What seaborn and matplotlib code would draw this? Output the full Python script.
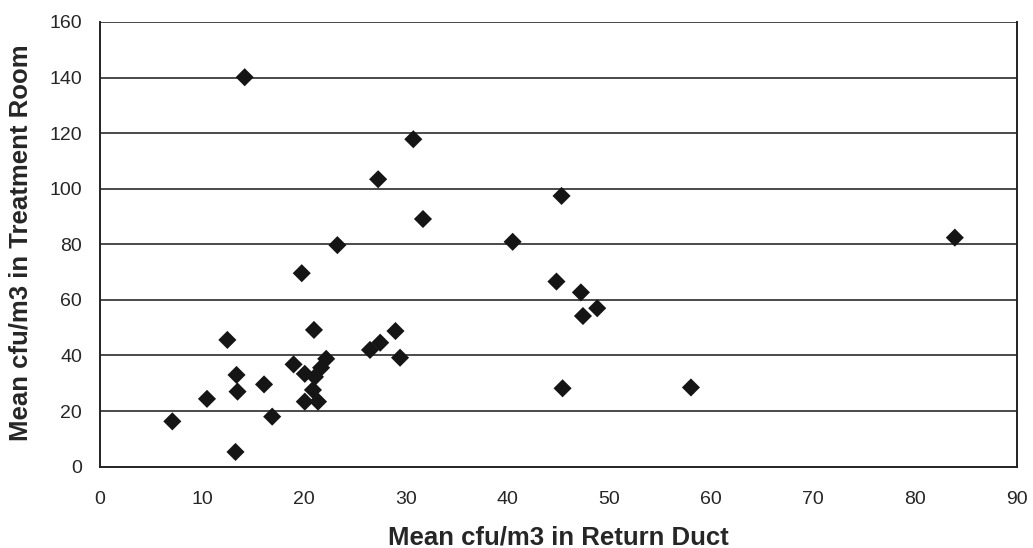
import matplotlib
matplotlib.use("Agg")
import matplotlib.pyplot as plt
import seaborn as sns
import pandas as pd

# Data
return_duct = [14.2, 30.75, 27.3, 31.7, 23.3, 19.8, 45.3, 40.5, 83.9, 44.8, 47.2, 48.8,
               47.4, 45.4, 58.0, 29.45, 29.0, 27.5, 26.5, 21.0, 12.5, 19.0, 22.2, 21.7,
               20.1, 21.1, 20.9, 20.1, 21.4, 13.4, 13.5, 16.1, 10.5, 16.9, 13.3, 7.1]
treatment_room = [140.1, 117.8, 103.4, 89.1, 79.7, 69.6, 97.4, 80.9, 82.4, 66.6, 62.7, 57.0,
                  54.2, 28.2, 28.5, 39.2, 48.8, 44.6, 42.0, 49.2, 45.6, 36.8, 38.8, 35.6,
                  33.4, 32.3, 27.6, 23.4, 23.4, 33.0, 27.0, 29.6, 24.4, 18.0, 5.3, 16.3]
x_ticks = [0, 10, 20, 30, 40, 50, 60, 70, 80, 90]
y_ticks = [0, 20, 40, 60, 80, 100, 120, 140, 160]
x_label = "Mean cfu/m3 in Return Duct"
y_label = "Mean cfu/m3 in Treatment Room"

df = pd.DataFrame({"x": return_duct, "y": treatment_room})

sns.set_theme(style="white")
plt.rcParams['font.family'] = ['Liberation Sans', 'DejaVu Sans']

fig = plt.figure(figsize=(10.33, 5.48), dpi=100)
ax = fig.add_axes([0.0968, 0.1484, 0.8877, 0.8116])

for yt in y_ticks[1:]:
    ax.axhline(yt, color="#4a4a4a", linewidth=1.4, zorder=1)

sns.scatterplot(data=df, x="x", y="y", marker="D", s=85, color="#151515",
                edgecolor="none", ax=ax, zorder=3)

ax.set_xlim(0, 90)
ax.set_ylim(0, 160)
ax.set_xticks(x_ticks)
ax.set_yticks(y_ticks)
ax.set_xticklabels([str(t) for t in x_ticks], fontsize=14)
ax.set_yticklabels([str(t) for t in y_ticks], fontsize=14)
ax.tick_params(axis="y", direction="out", length=6, width=1, color="#333333", pad=7)
ax.tick_params(axis="x", direction="inout", length=5, width=1, color="#333333", pad=15)

for side in ["left", "bottom", "right"]:
    ax.spines[side].set_visible(True)
    ax.spines[side].set_color("#222222")
    ax.spines[side].set_linewidth(1.4)
ax.spines["top"].set_visible(False)

ax.set_xlabel(x_label, fontsize=18.5, fontweight="bold")
ax.set_ylabel(y_label, fontsize=18.5, fontweight="bold")
ax.xaxis.set_label_coords(0.5, (466.7 - 545) / 444.7)
ax.xaxis.label.set_verticalalignment("baseline")
ax.yaxis.set_label_coords((28 - 100) / 917, 0.504)
ax.yaxis.label.set_verticalalignment("baseline")

fig.savefig("out.png", dpi=100)
